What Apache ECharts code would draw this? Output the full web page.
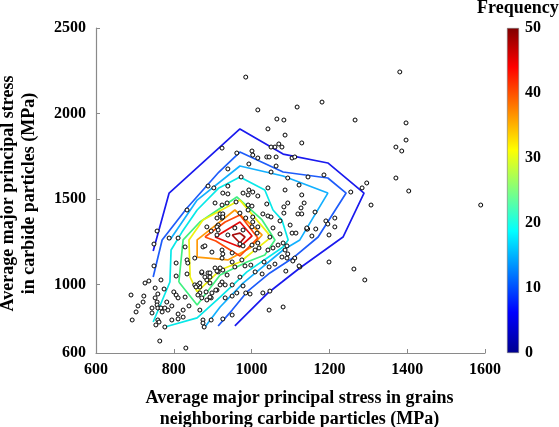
<!DOCTYPE html>
<html><head><meta charset="utf-8">
<style>html,body{margin:0;padding:0;background:#fff}#c{width:559px;height:427px}</style>
<script src="https://cdn.jsdelivr.net/npm/echarts@6/dist/echarts.min.js"></script>
</head><body><div id="c"></div>
<script>
const xTicks = [600, 800, 1000, 1200, 1400, 1600];
const yTicks = [600, 1000, 1500, 2000, 2500];
const freqTicks = [0, 10, 20, 30, 40, 50];
const xTitle = 'Average major principal stress in grains\nneighboring carbide particles (MPa)';
const yTitle = 'Average major principal stress\nin carbide particles (MPa)';
const barTitle = 'Frequency';

const contour5 = [[747,1196],[788,1535],[970,1910],[1081,1763],[1196,1711],[1289,1535],[1235,1278],[1124,1097],[1078,1015],[1042,951],[957,758]];
const contour10 = [[747,1044],[770,1261],[834,1448],[916,1658],[970,1775],[1081,1658],[1196,1623],[1243,1535],[1171,1278],[1106,1155],[1047,1068],[988,957],[950,851],[914,758]];
const contour15 = [[790,1261],[860,1494],[970,1693],[1081,1635],[1196,1535],[1124,1261],[1081,1202],[978,1009],[919,869],[880,752]];
const contour20 = [[747,781],[790,1015],[793,1202],[821,1307],[860,1436],[916,1565],[970,1629],[1034,1553],[1055,1436],[1078,1378],[1094,1261],[1081,1220],[988,1074],[919,927],[860,805],[777,752]];
const contour25 = [[813,1015],[824,1261],[867,1366],[962,1512],[1027,1378],[1060,1261],[1034,1173],[988,1132],[919,1056],[860,881],[813,1015]];
const contour30 = [[860,957],[842,1044],[839,1261],[875,1378],[970,1494],[1042,1301],[1047,1272],[970,1132],[919,1085],[860,957]];
const contour35 = [[860,1161],[860,1261],[957,1436],[1027,1290],[996,1214],[939,1144],[860,1161]];
const contour40 = [[880,1278],[932,1366],[970,1407],[1016,1272],[970,1167],[908,1255],[880,1278]];
const contour45 = [[906,1278],[970,1366],[1001,1284],[970,1220],[906,1278]];
const contour50 = [[950,1290],[970,1301],[983,1278],[970,1243],[950,1290]];

const contours = [contour5, contour10, contour15, contour20, contour25, contour30, contour35, contour40, contour45, contour50];
const contourColors = ['#1a1aee','#1e5cfa','#12b0ff','#08e8e8','#40f080','#eef010','#ff9a08','#ff4a08','#e80c0c','#a80c0c'];

const particles = [
[985,2213],[1381,2243],[1016,2021],[1117,2038],[1181,2067],[1065,1968],[1083,1962],[1266,1962],[1397,1945],[1042,1910],[1086,1874],[1397,1845],
[1129,1828],[1371,1804],[1386,1781],[1371,1623],[1404,1547],[1589,1465],[1296,1594],[1284,1565],[1255,1541],[1307,1465],[1186,1641],[1145,1629],[1129,1524],[1135,1477],[1127,1448],[1129,1413],[1163,1424],[1191,1372],[1196,1354],[1214,1389],[1214,1337],[1165,1325],[1142,1325],[1144,1325],[1155,1284],[1199,1290],[1199,1132],[1263,1091],[1291,1027],[1124,1103],
[924,1798],[962,1769],[1001,1781],[1003,1757],[1016,1740],[1070,1822],[1060,1804],[1050,1804],[1078,1804],[1039,1746],[1045,1746],[1063,1746],[1104,1740],[1111,1746],[1063,1693],[993,1705],[939,1676],[1050,1658],[1093,1623],[973,1629],[888,1576],[903,1565],[939,1576],[1122,1582],[1042,1565],[1086,1553],[978,1535],[993,1553],[1003,1541],[991,1524],[926,1535],[939,1530],[1016,1518],[1039,1471],[1093,1477],[1083,1454],[1119,1413],[1083,1418],[906,1477],[924,1465],[937,1477],[960,1483],[991,1465],[1001,1459],[970,1418],[991,1436],[919,1413],[926,1413],[911,1389],[924,1389],[926,1395],[985,1389],[1003,1395],[1029,1413],[1042,1401],[1050,1395],[1073,1372],[1099,1348],[1142,1331],[885,1337],[914,1348],[896,1313],[911,1290],[939,1290],[957,1331],[978,1319],[1001,1337],[1003,1366],[1016,1337],[1014,1301],[1055,1331],[1047,1278],[1073,1296],[1104,1301],
[1114,1301],[875,1220],[880,1226],[898,1190],[924,1202],[926,1179],[924,1155],[950,1185],[970,1237],[978,1226],[1001,1231],[1016,1243],[1009,1202],[1019,1214],[1042,1202],[1055,1214],[1068,1231],[1081,1243],[1091,1226],[1086,1202],[1078,1161],[1093,1179],[1091,1155],[1111,1155],[1106,1138],[1122,1109],[1088,1079],[1060,1120],[1045,1103],[1032,1132],[1027,1062],[1009,1074],[998,1114],[983,1109],[957,1103],[975,1144],[950,1132],[926,1085],[914,1074],[937,1056],[950,998],[970,1044],[978,992],[962,951],[950,933],[932,922],[985,951],[996,945],[1029,951],[1047,962],[1045,851],[1081,869],[896,793],[926,799],[950,822],[875,793],[875,775],[878,752],[888,1068],[885,1027],[872,1068],[893,1068],[906,1097],[919,1097],[924,1015],[932,998],[919,998],[893,1009],[867,986],[911,968],[898,951],[883,957],[896,922],[885,910],[867,951],
[749,1237],[749,1109],[829,1220],[806,1126],[806,1050],[834,1144],[836,1126],[834,1062],[854,1155],[872,1074],[880,1044],[893,1044],[911,1079],[736,1021],[726,1009],[767,1027],[752,980],[775,974],[690,939],[723,933],[721,898],[759,945],[752,922],[757,898],[757,881],[759,863],[708,875],[703,840],[693,793],[744,863],[744,834],[767,863],[770,840],[782,898],[795,875],[777,863],[785,851],[800,957],[806,939],[811,922],[839,875],[829,927],[824,851],[811,828],[824,810],[811,799],[795,793],[759,793],[762,781],[754,764],[777,752],[764,670],[831,629],[854,998],[862,998],[867,1009],[857,986],[867,851],[908,968],[893,927],[872,922],[862,939],
[834,1436],[757,1313],[788,1272],[811,1272],[911,1337],[914,1319]
];
const freqMax = [50];

const font = 'Liberation Serif';
const axisGrey = '#8a8a8a';
const plain = v => String(v);
const chart = echarts.init(document.getElementById('c'), null, {renderer: 'canvas'});
const series = contours.map((c, i) => ({
  type: 'line', data: c, xAxisIndex: 0, yAxisIndex: 0, showSymbol: false, symbol: 'none',
  lineStyle: {color: contourColors[i], width: 1.7}, silent: true, z: 2, animation: false
}));
series.push({
  type: 'scatter', data: particles, xAxisIndex: 0, yAxisIndex: 0, symbol: 'circle', symbolSize: 4,
  itemStyle: {color: '#fff', borderColor: '#000', borderWidth: 1, opacity: 1}, z: 3, animation: false
});
series.push({
  type: 'bar', data: freqMax, xAxisIndex: 1, yAxisIndex: 1, barWidth: '100%', animation: false,
  itemStyle: {
    borderColor: '#777', borderWidth: 0.6,
    color: new echarts.graphic.LinearGradient(0, 0, 0, 1, [
      {offset: 0, color: '#800000'}, {offset: 0.12, color: '#ff0000'}, {offset: 0.375, color: '#ffff00'},
      {offset: 0.625, color: '#00ffff'}, {offset: 0.875, color: '#0000ff'}, {offset: 1, color: '#00008f'}
    ])
  }
});
chart.setOption({
  animation: false,
  backgroundColor: '#fff',
  title: {text: barTitle, left: 477, top: -1, padding: 0, textStyle: {fontFamily: font, fontWeight: 'bold', fontSize: 18, color: '#000'}},
  grid: [
    {left: 96, top: 28, width: 389, height: 325, outerBoundsMode: 'none', containLabel: false},
    {left: 507, top: 28, width: 12, height: 325, outerBoundsMode: 'none', containLabel: false}
  ],
  xAxis: [
    {type: 'value', gridIndex: 0, min: 600, max: 1600, interval: 200,
     name: xTitle, nameLocation: 'middle', nameGap: 35,
     nameTextStyle: {fontFamily: font, fontWeight: 'bold', fontSize: 18, color: '#000', lineHeight: 21, padding: [0, 0, 0, 18]},
     axisLine: {onZero: false, lineStyle: {color: axisGrey, width: 1.2}},
     axisTick: {inside: true, length: 4, lineStyle: {color: axisGrey}},
     axisLabel: {fontFamily: font, fontWeight: 'bold', fontSize: 16, color: '#000', margin: 9, formatter: plain},
     splitLine: {show: false}},
    {type: 'category', gridIndex: 1, data: [''], show: false}
  ],
  yAxis: [
    {type: 'value', gridIndex: 0, min: 600, max: 2500,
     name: yTitle, nameLocation: 'middle', nameGap: 56, nameRotate: 90,
     nameTextStyle: {fontFamily: font, fontWeight: 'bold', fontSize: 18, color: '#000', lineHeight: 21, padding: [0, 6, 0, 0]},
     axisLine: {onZero: false, lineStyle: {color: axisGrey, width: 1.2}},
     axisTick: {inside: true, length: 4, lineStyle: {color: axisGrey}, customValues: yTicks},
     axisLabel: {fontFamily: font, fontWeight: 'bold', fontSize: 16, color: '#000', margin: 10, customValues: yTicks, formatter: plain, showMinLabel: true, showMaxLabel: true},
     splitLine: {show: false}},
    {type: 'value', gridIndex: 1, position: 'right', min: 0, max: 50, interval: 10,
     axisLine: {show: false},
     axisTick: {inside: true, length: 3, lineStyle: {color: '#555'}},
     axisLabel: {fontFamily: font, fontWeight: 'bold', fontSize: 16, color: '#000', margin: 6, formatter: plain},
     splitLine: {show: false}, z: 5}
  ],
  series
});
</script></body></html>
